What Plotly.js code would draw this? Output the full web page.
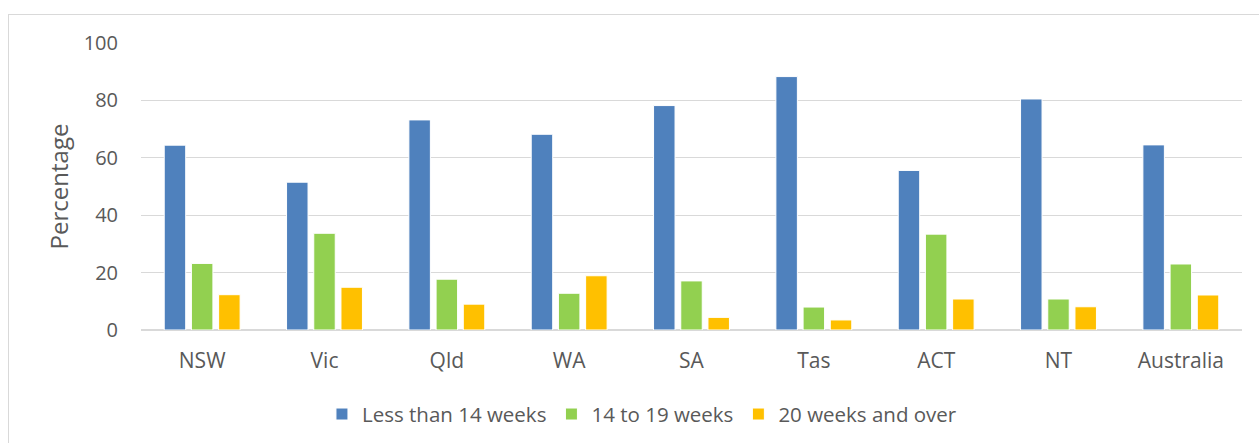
<!DOCTYPE html>
<html>
<head>
<meta charset="utf-8">
<script src="https://cdn.plot.ly/plotly-3.0.1.min.js"></script>
<style>
  body { margin: 0; overflow: hidden; background: #fff; }
  #chart { width: 1259px; height: 443px; }
  #frame { position: absolute; left: 8px; top: 14px; width: 1300px; height: 500px;
           border: 1.5px solid #d9d9d9; pointer-events: none; }
</style>
</head>
<body>
<div id="chart"></div>
<div id="frame"></div>
<script>
// states and territories
var regions = ["NSW", "Vic", "Qld", "WA", "SA", "Tas", "ACT", "NT", "Australia"];

// percentage by weeks of leave
var lessThan14 = [64.4, 51.5, 73.2, 68.2, 78.2, 88.3, 55.6, 80.5, 64.5];
var from14to19 = [23.2, 33.7, 17.7, 12.8, 17.1, 8.0, 33.4, 10.8, 23.0];
var over20 = [12.3, 14.9, 9.0, 18.9, 4.4, 3.5, 10.8, 8.1, 12.2];

var yTicks = [0, 20, 40, 60, 80, 100];

function makeTrace(name, vals, color) {
    return {
        x: regions,
        y: vals,
        name: name,
        type: "bar",
        marker: {color: color, line: {color: "#ffffff", width: 1}},
        hoverinfo: "x+y+name"
    };
}

var data = [
    makeTrace("Less than 14 weeks", lessThan14, "#4f81bd"),
    makeTrace("14 to 19 weeks", from14to19, "#92d050"),
    makeTrace("20 weeks and over", over20, "#ffc000")
];

var layout = {
    width: 1259,
    height: 443,
    margin: {l: 141, r: 17, t: 43, b: 113, autoexpand: false},
    paper_bgcolor: "rgba(0,0,0,0)",
    plot_bgcolor: "#ffffff",
    font: {family: "Open Sans, sans-serif", size: 20, color: "#595959"},
    barmode: "group",
    bargap: 0.333,
    bargroupgap: 0.21,
    showlegend: true,
    legend: {
        orientation: "h",
        x: 0.455,
        xanchor: "center",
        yref: "container",
        y: 0.065,
        yanchor: "middle",
        font: {size: 20.5, color: "#595959"},
        itemwidth: 30,
        traceorder: "normal"
    },
    xaxis: {
        showgrid: false,
        showline: false,
        ticks: "",
        tickfont: {size: 21, color: "#595959"},
        ticklabelstandoff: 16
    },
    yaxis: {
        range: [0, 100],
        tickvals: yTicks,
        showgrid: true,
        gridcolor: "#d9d9d9",
        gridwidth: 1.3,
        zeroline: true,
        zerolinecolor: "#d9d9d9",
        zerolinewidth: 1.5,
        showline: false,
        ticks: "",
        tickfont: {size: 20, color: "#595959"},
        ticklabelstandoff: 22,
        title: {text: "Percentage", font: {size: 24, color: "#595959"}, standoff: 8}
    }
};

Plotly.newPlot("chart", data, layout, {displayModeBar: false});
</script>
</body>
</html>
